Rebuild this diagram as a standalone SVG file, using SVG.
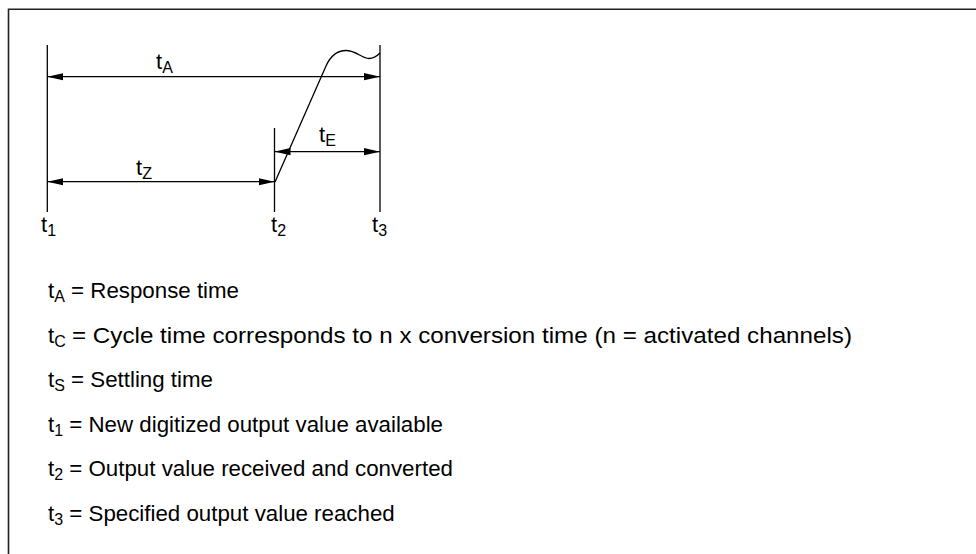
<svg xmlns="http://www.w3.org/2000/svg" width="976" height="554" viewBox="0 0 976 554">
<defs>
<marker id="ah" markerUnits="userSpaceOnUse" markerWidth="16" markerHeight="8" refX="16" refY="4" orient="auto-start-reverse" viewBox="0 0 16 8">
<path d="M0,0.4 L16,4 L0,7.6 z" fill="#000"/>
</marker>
<style>
.ln{stroke:#000;stroke-width:1.3;fill:none}
.ar{stroke:#000;stroke-width:1.3;fill:none;marker-start:url(#ah);marker-end:url(#ah)}
text{font-family:"Liberation Sans",Arial,Helvetica,sans-serif;fill:#000}
.lb{font-size:22px}
.sb{font-size:16px}
.lg{font-size:22.3px}
</style>
</defs>
<rect width="976" height="554" fill="#fff"/>
<g id="frame">
<path d="M8.5,554 L8.5,9.2 L976,9.2" fill="none" stroke="#222" stroke-width="1.6"/>
</g>
<g id="t1-line"><line class="ln" x1="47.3" y1="45" x2="47.3" y2="212"/></g>
<g id="t2-line"><line class="ln" x1="274.5" y1="128" x2="274.5" y2="212"/></g>
<g id="t3-line"><line class="ln" x1="380" y1="45" x2="380" y2="212"/></g>
<g id="signal"><path class="ln" d="M275,182 L326,66 C331,55 337,50.5 346,50.5 C356,50.5 362,58.5 369,58.5 C374,58.5 377,56 380,53"/></g>
<g id="connectors">
<line class="ar" x1="47.3" y1="76.7" x2="380" y2="76.7"/>
<line class="ar" x1="47.3" y1="181.7" x2="274.5" y2="181.7"/>
<line class="ar" x1="274.5" y1="151.7" x2="380" y2="151.7"/>
</g>
<g id="labels">
<text class="lb" x="156" y="69">t<tspan class="sb" dy="3.5">A</tspan></text>
<text class="lb" x="136" y="175">t<tspan class="sb" dy="3.5">Z</tspan></text>
<text class="lb" x="319" y="142">t<tspan class="sb" dy="3.5">E</tspan></text>
<text class="lb" x="41" y="232">t<tspan class="sb" dy="4">1</tspan></text>
<text class="lb" x="271" y="232">t<tspan class="sb" dy="4">2</tspan></text>
<text class="lb" x="372" y="232">t<tspan class="sb" dy="4">3</tspan></text>
</g>
<g id="legend">
<text class="lg" x="48" y="298">t<tspan class="sb" dy="4">A</tspan><tspan dy="-4"> = Response time</tspan></text>
<text class="lg" x="48" y="342.5">t<tspan class="sb" dy="4">C</tspan></text>
<text class="lg" x="72" y="342.5" textLength="780" lengthAdjust="spacingAndGlyphs">= Cycle time corresponds to n x conversion time (n = activated channels)</text>
<text class="lg" x="48" y="387">t<tspan class="sb" dy="4">S</tspan><tspan dy="-4"> = Settling time</tspan></text>
<text class="lg" x="48" y="431.5">t<tspan class="sb" dy="4">1</tspan><tspan dy="-4"> = New digitized output value available</tspan></text>
<text class="lg" x="48" y="476">t<tspan class="sb" dy="4">2</tspan><tspan dy="-4"> = Output value received and converted</tspan></text>
<text class="lg" x="48" y="520.5">t<tspan class="sb" dy="4">3</tspan><tspan dy="-4"> = Specified output value reached</tspan></text>
</g>
</svg>
